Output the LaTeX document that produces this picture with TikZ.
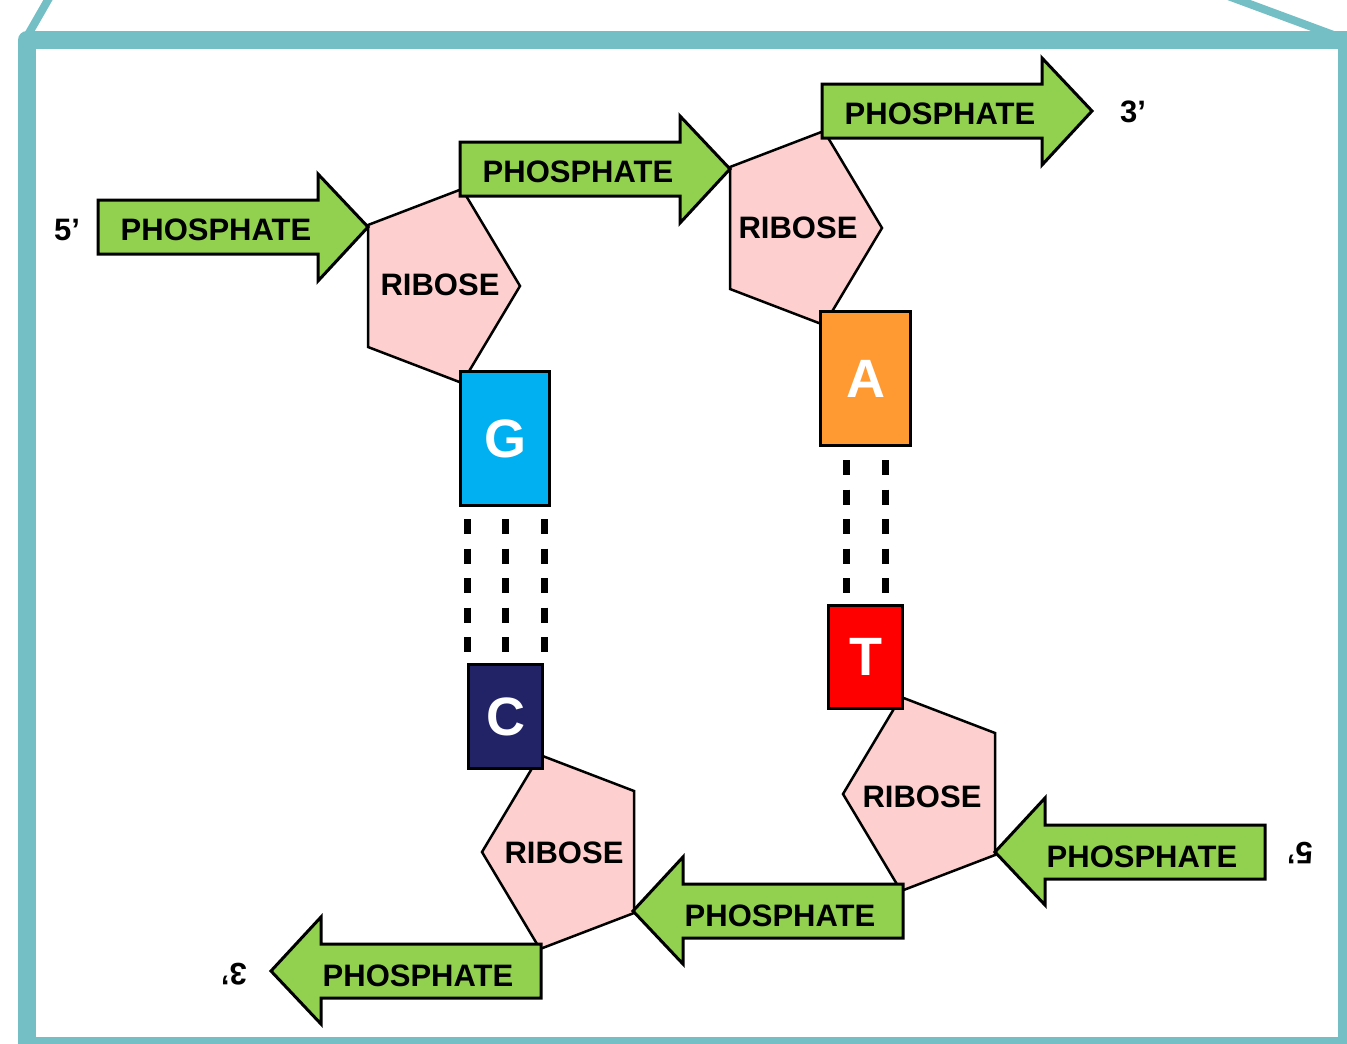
\documentclass[tikz,border=0pt]{standalone}
\usepackage{fontspec}
\setmainfont{Liberation Sans}

\definecolor{frameteal}{HTML}{73BFC5}
\definecolor{phgreen}{HTML}{92D050}
\definecolor{ribpink}{HTML}{FDCFCF}
\definecolor{gblue}{HTML}{00B0F0}
\definecolor{cnavy}{HTML}{222266}
\definecolor{aorange}{HTML}{FF9A33}
\definecolor{tred}{HTML}{FF0000}

\begin{document}
\begin{tikzpicture}[%
  x=1pt, y=-1pt,
  boxframe/.style={draw=frameteal, line width=18pt, line join=round},
  perspline/.style={draw=frameteal, line width=8pt},
  phosphate/.style={draw, fill=phgreen, line width=3pt, line join=miter},
  ribose/.style={draw, fill=ribpink, line width=2.5pt, line join=miter},
  basebox/.style={draw, line width=3pt, inner sep=0pt, text=white,
    font=\bfseries\fontsize{54}{54}\selectfont},
  txt/.style={inner sep=0pt, font=\bfseries\fontsize{31}{31}\selectfont},
  hbond/.style={line width=7pt, dash pattern=on 15pt off 14.5pt},
]

  \useasboundingbox (0,0) rectangle (1347,1044);
  \clip (0,0) rectangle (1347,1044);

  \draw[perspline] (25,40) -- (56,-14);
  \draw[perspline] (1347,40) -- (1201,-14);
  \draw[boxframe] (27,40) rectangle (1347,1046);

  \draw[ribose, shift={(441,286)}] (-73,-61) -- (21,-97) -- (79,0) -- (21,97) -- (-73,61) -- cycle;
  \draw[ribose, shift={(803,228)}] (-73,-61) -- (21,-97) -- (79,0) -- (21,97) -- (-73,61) -- cycle;
  \draw[ribose, shift={(561,852)}, rotate=180] (-73,-61) -- (21,-97) -- (79,0) -- (21,97) -- (-73,61) -- cycle;
  \draw[ribose, shift={(922,794)}, rotate=180] (-73,-61) -- (21,-97) -- (79,0) -- (21,97) -- (-73,61) -- cycle;

  \draw[phosphate, shift={(98,200)}] (0,0) -- (220,0) -- (220,-26) -- (270,27) -- (220,81) -- (220,54) -- (0,54) -- cycle;
  \draw[phosphate, shift={(460,142)}] (0,0) -- (220,0) -- (220,-26) -- (270,27) -- (220,81) -- (220,54) -- (0,54) -- cycle;
  \draw[phosphate, shift={(822,84)}] (0,0) -- (220,0) -- (220,-26) -- (270,27) -- (220,81) -- (220,54) -- (0,54) -- cycle;
  \draw[phosphate, shift={(1265,879)}, rotate=180] (0,0) -- (220,0) -- (220,-26) -- (270,27) -- (220,81) -- (220,54) -- (0,54) -- cycle;
  \draw[phosphate, shift={(903,938)}, rotate=180] (0,0) -- (220,0) -- (220,-26) -- (270,27) -- (220,81) -- (220,54) -- (0,54) -- cycle;
  \draw[phosphate, shift={(541,998)}, rotate=180] (0,0) -- (220,0) -- (220,-26) -- (270,27) -- (220,81) -- (220,54) -- (0,54) -- cycle;

  \node[basebox, fill=gblue, minimum width=89pt, minimum height=134pt] (g) at (505,438.5) {G};
  \node[basebox, fill=cnavy, minimum width=74pt, minimum height=104pt] (c) at (505.5,716.5) {C};
  \node[basebox, fill=aorange, minimum width=90pt, minimum height=134pt] (a) at (865.5,378.5) {A};
  \node[basebox, fill=tred, minimum width=74pt, minimum height=103pt] (t) at (865.5,657) {T};

  \draw[hbond, shorten <=12pt, shorten >=11pt] (g.south -| c.west) -- (c.north west);
  \draw[hbond, shorten <=12pt, shorten >=11pt] (g.south -| c.north) -- (c.north);
  \draw[hbond, shorten <=12pt, shorten >=11pt] (g.south -| c.east) -- (c.north east);

  \draw[hbond, shorten <=13pt, shorten >=8pt] ([xshift=-19.5pt]a.south) -- ([xshift=-19.5pt]t.north);
  \draw[hbond, shorten <=13pt, shorten >=8pt] ([xshift=19.5pt]a.south) -- ([xshift=19.5pt]t.north);

  \node[txt] (ph1) at (216,230) {PHOSPHATE};
  \node[txt] (ph2) at (578,172) {PHOSPHATE};
  \node[txt] (ph3) at (940,114) {PHOSPHATE};
  \node[txt] (ph4) at (1142,857) {PHOSPHATE};
  \node[txt] (ph5) at (780,916) {PHOSPHATE};
  \node[txt] (ph6) at (418,976) {PHOSPHATE};

  \node[txt] (rb1) at (440,285) {RIBOSE};
  \node[txt] (rb2) at (798,228) {RIBOSE};
  \node[txt] (rb3) at (564,853) {RIBOSE};
  \node[txt] (rb4) at (922,797) {RIBOSE};

  \node[txt] (end5) at (67,230) {5’};
  \node[txt] (end3) at (1133,112) {3’};
  \node[txt, rotate=180] (end3b) at (234,974) {3’};
  \node[txt, rotate=180] (end5b) at (1300,853) {5’};

\end{tikzpicture}
\end{document}
